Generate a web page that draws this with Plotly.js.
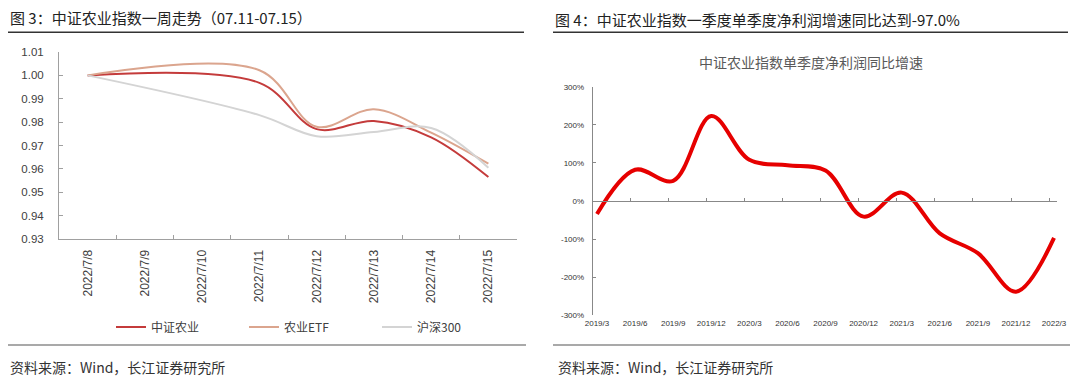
<!DOCTYPE html>
<html><head><meta charset="utf-8">
<script src="https://cdn.plot.ly/plotly-3.0.1.min.js"></script>
<style>html,body{margin:0;padding:0;background:#fff}#chart{width:1080px;height:382px}</style>
</head><body><div id="chart"></div>
<script>
// ---- Data: Figure 3 ----
const dates = ['2022/7/8','2022/7/9','2022/7/10','2022/7/11','2022/7/12','2022/7/13','2022/7/14','2022/7/15'];
const zzny  = [1.000, null, null, 0.9968, 0.977, 0.9805, 0.9735, 0.9565];
const nyetf = [1.000, null, null, 1.0022, 0.978, 0.9855, 0.9755, 0.9622];
const hs300 = [1.000, null, null, 0.983, 0.974, 0.9758, 0.9775, 0.9605];
const seriesNamesL = ['中证农业', '农业ETF', '沪深300'];
const yTicksL = [0.93, 0.94, 0.95, 0.96, 0.97, 0.98, 0.99, 1.00, 1.01];

// ---- Data: Figure 4 ----
const quarters = ['2019/3','2019/6','2019/9','2019/12','2020/3','2020/6','2020/9','2020/12','2021/3','2021/6','2021/9','2021/12','2022/3'];
const profitGrowth = [-34, 82, 53, 223, 108, 94, 80, -41, 22, -85, -137, -238, -97];
const yTicksR = [-300, -200, -100, 0, 100, 200, 300];
const yTickTextR = yTicksR.map(v => String(v) + '%');

const W = 1080, H = 382;
const px = v => v / W;
const py = v => 1 - v / H;
const FONT = 'Liberation Sans, Arial, Noto Sans CJK SC, sans-serif';
const CJK = 'Noto Sans CJK SC, Liberation Sans, sans-serif';

const traces = [
  {x: dates, y: zzny, name: seriesNamesL[0], type: 'scatter', mode: 'lines', connectgaps: true,
   line: {color: '#C43B3B', width: 2, shape: 'spline'}, xaxis: 'x', yaxis: 'y'},
  {x: dates, y: nyetf, name: seriesNamesL[1], type: 'scatter', mode: 'lines', connectgaps: true,
   line: {color: '#DBA58E', width: 2, shape: 'spline'}, xaxis: 'x', yaxis: 'y'},
  {x: dates, y: hs300, name: seriesNamesL[2], type: 'scatter', mode: 'lines', connectgaps: true,
   line: {color: '#D4D4D4', width: 2, shape: 'spline'}, xaxis: 'x', yaxis: 'y'},
  {x: quarters, y: profitGrowth, name: '中证农业指数单季度净利润同比增速', type: 'scatter', mode: 'lines',
   line: {color: '#E60000', width: 4, shape: 'spline'}, xaxis: 'x2', yaxis: 'y2', showlegend: false},
  {x: [], y: [], type: 'scatter', mode: 'lines', xaxis: 'x3', yaxis: 'y2', showlegend: false, hoverinfo: 'skip'}
];

const tickValsX3 = quarters.slice(1).map((q, i) => i + 0.87);

const axGray = '#A0A0A0';
const layout = {
  width: W, height: H,
  margin: {l: 0, r: 0, t: 0, b: 0},
  paper_bgcolor: '#fff', plot_bgcolor: 'rgba(0,0,0,0)',
  font: {family: FONT, color: '#404040'},
  showlegend: true,
  legend: {orientation: 'h', x: px(111), y: py(327), xanchor: 'left', yanchor: 'middle',
           font: {family: CJK, size: 12, color: '#404040'}, entrywidth: 88, entrywidthmode: 'pixels',
           itemwidth: 30, traceorder: 'normal', bgcolor: 'rgba(0,0,0,0)'},
  xaxis: {domain: [px(59), px(517)], anchor: 'y', type: 'category', range: [-0.5, 7.5],
          tickson: 'boundaries', ticks: 'inside', ticklen: 4, tickcolor: axGray,
          showline: true, linecolor: axGray, linewidth: 1, showgrid: false, zeroline: false,
          tickangle: -90, tickfont: {family: FONT, size: 12, color: '#404040'}, ticklabelstandoff: 5,
          fixedrange: true},
  yaxis: {domain: [py(239), py(52)], anchor: 'x', range: [0.93, 1.01], tickvals: yTicksL, tickformat: '.2f',
          ticks: 'inside', ticklen: 4, tickcolor: axGray, showline: true, linecolor: axGray,
          showgrid: false, zeroline: false, tickfont: {family: FONT, size: 11.5, color: '#404040'},
          ticklabelstandoff: 12, fixedrange: true},
  xaxis2: {domain: [px(592.7), px(1056.7)], anchor: 'y2', type: 'category', range: [-0.113, 12.07],
           ticks: '', showline: false, showgrid: false, zeroline: false,
           tickfont: {family: FONT, size: 8, color: '#333'}, ticklabelstandoff: 2, fixedrange: true},
  yaxis2: {domain: [py(315.3), py(86.7)], anchor: 'x2', range: [-300, 300], tickvals: yTicksR, ticktext: yTickTextR,
           ticks: 'inside', ticklen: 3, tickcolor: '#888', showline: true, linecolor: '#888',
           showgrid: false, zeroline: false, tickfont: {family: FONT, size: 8, color: '#333'},
           ticklabelstandoff: 6, fixedrange: true},
  xaxis3: {domain: [px(592.7), px(1056.7)], overlaying: 'x2', anchor: 'free', position: py(201),
           range: [-0.113, 12.07], tickvals: tickValsX3, ticks: 'inside', ticklen: 3, tickcolor: '#888',
           showline: true, linecolor: '#888', showticklabels: false, showgrid: false, zeroline: false,
           fixedrange: true},
  annotations: [
    {text: '图 3：中证农业指数一周走势（07.11-07.15）', xref: 'paper', yref: 'paper', x: px(8), y: py(17),
     xanchor: 'left', yanchor: 'middle', showarrow: false, font: {family: CJK, size: 15, color: '#222'}},
    {text: '图 4：中证农业指数一季度单季度净利润增速同比达到-97.0%', xref: 'paper', yref: 'paper', x: px(553), y: py(20),
     xanchor: 'left', yanchor: 'middle', showarrow: false, font: {family: CJK, size: 15, color: '#222'}},
    {text: '中证农业指数单季度净利润同比增速', xref: 'paper', yref: 'paper', x: px(811), y: py(62),
     xanchor: 'center', yanchor: 'middle', showarrow: false, font: {family: CJK, size: 14, color: '#595959'}},
    {text: '资料来源：Wind，长江证券研究所', xref: 'paper', yref: 'paper', x: px(8), y: py(367),
     xanchor: 'left', yanchor: 'middle', showarrow: false, font: {family: CJK, size: 14, color: '#333'}},
    {text: '资料来源：Wind，长江证券研究所', xref: 'paper', yref: 'paper', x: px(556), y: py(367),
     xanchor: 'left', yanchor: 'middle', showarrow: false, font: {family: CJK, size: 14, color: '#333'}}
  ],
  shapes: [
    {type: 'line', xref: 'paper', yref: 'paper', x0: px(8), x1: px(524), y0: py(32.3), y1: py(32.3), line: {color: '#333', width: 1.5}},
    {type: 'line', xref: 'paper', yref: 'paper', x0: px(553), x1: px(1068), y0: py(32.3), y1: py(32.3), line: {color: '#333', width: 1.5}},
    {type: 'line', xref: 'paper', yref: 'paper', x0: px(8), x1: px(526), y0: py(345), y1: py(345), line: {color: '#555', width: 1.2}},
    {type: 'line', xref: 'paper', yref: 'paper', x0: px(553), x1: px(1070), y0: py(345), y1: py(345), line: {color: '#555', width: 1.2}}
  ]
};

Plotly.newPlot('chart', traces, layout, {staticPlot: true, displayModeBar: false});
</script>
</body></html>
